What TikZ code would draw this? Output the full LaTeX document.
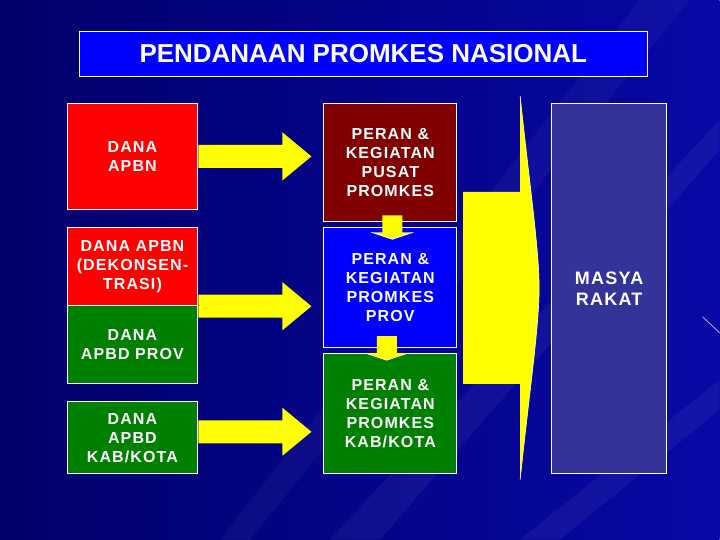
\documentclass[tikz,border=0pt]{standalone}
\usepackage{fontspec}
\usetikzlibrary{calc}
\newfontfamily\boxfont[LetterSpace=7]{Liberation Sans}
\newfontfamily\titlefont{Liberation Sans}
\newcommand\fatarrow[2]{%
  \fill [arrowyellow] ($(#1)+(0,-11.5)$) -- ($(#2)+(-29,-11.5)$) -- ($(#2)+(-29,-24)$) -- (#2)
    -- ($(#2)+(-29,24)$) -- ($(#2)+(-29,11.5)$) -- ($(#1)+(0,11.5)$) -- cycle;}
\newcommand\droparrow[1]{%
  \fill [arrowyellow] ($(#1)+(-10,0)$) -- ($(#1)+(10,0)$) -- ($(#1)+(10,17)$) -- ($(#1)+(21,17)$)
    -- ($(#1)+(0,24)$) -- ($(#1)+(-21,17)$) -- ($(#1)+(-10,17)$) -- cycle;
  \draw [white,line width=0.6pt] ($(#1)+(-21,17)$) -- ($(#1)+(0,24)$) -- ($(#1)+(21,17)$);}
\begin{document}
\begin{tikzpicture}[x=1pt,y=-1pt,
  box/.style={draw=white,line width=0.8pt,text=white,align=center,inner sep=0pt,
    font=\boxfont\bfseries\fontsize{16}{19}\selectfont}]
  \definecolor{bgdark}{HTML}{00006A}
  \definecolor{bglight}{HTML}{0808A6}
  \definecolor{arrowyellow}{HTML}{FFFF00}
  \definecolor{pusatred}{HTML}{800000}
  \definecolor{provblue}{HTML}{0000FF}
  \definecolor{kabgreen}{HTML}{008000}
  \definecolor{masyblue}{HTML}{333399}
  \shade [left color=bgdark,right color=bglight] (0,0) rectangle (720,540);
  \fill [white,opacity=.05] (720,120) -- (720,150) -- (380,540) -- (330,540) -- cycle;
  \fill [white,opacity=.05] (720,380) -- (720,410) -- (560,540) -- (520,540) -- cycle;
  \fill [white,opacity=.04] (640,0) -- (690,0) -- (250,540) -- (220,540) -- cycle;
  \draw [violet!35!white,line width=0.8pt] (703,317) -- (720,333);
  \useasboundingbox (0,0) rectangle (720,540);

  \node [box,fill=provblue,minimum width=569,minimum height=45,
    font=\titlefont\bfseries\fontsize{26}{30}\selectfont] (title) at (363.5,53.5) {PENDANAAN PROMKES NASIONAL};

  \node [box,fill=red,minimum width=131,minimum height=107] (apbn) at (132.5,156.5) {DANA\\APBN};
  \node [box,fill=red,minimum width=131,minimum height=78] (dekon) at (132.5,267) {DANA APBN\\(DEKONSEN-\\TRASI)};
  \node [box,fill=kabgreen,minimum width=131,minimum height=78] (apbdprov) at (132.5,345) {DANA\\APBD PROV};
  \node [box,fill=kabgreen,minimum width=131,minimum height=72] (apbdkab) at (132.5,438) {DANA\\APBD\\KAB/KOTA};

  \node [box,fill=pusatred,minimum width=133,minimum height=119] (pusat) at (390.5,162.5) {PERAN \&\\KEGIATAN\\PUSAT\\PROMKES};
  \node [box,fill=provblue,minimum width=133,minimum height=120] (prov) at (390.5,288) {PERAN \&\\KEGIATAN\\PROMKES\\PROV};
  \node [box,fill=kabgreen,minimum width=133,minimum height=120] (kab) at (390.5,414) {PERAN \&\\KEGIATAN\\PROMKES\\KAB/KOTA};

  \node [box,fill=masyblue,minimum width=115,minimum height=371,
    font=\boxfont\bfseries\fontsize{18}{21}\selectfont] (masy) at (609.5,288.5) {MASYA\\RAKAT};

  \coordinate (tip) at ($(pusat.west)+(-12,0)$);
  \coordinate (tip1) at (apbn.east -| tip);
  \coordinate (tip2) at (dekon.south east -| tip);
  \coordinate (kabfrom) at ($(apbdkab.east)+(0,-6)$);
  \coordinate (tip3) at (kabfrom -| tip);
  \fatarrow{apbn.east}{tip1}
  \fatarrow{dekon.south east}{tip2}
  \fatarrow{kabfrom}{tip3}

  \coordinate (drop1) at ($(pusat.south)+(2,-7)$);
  \coordinate (drop2) at ($(prov.south)+(-3.5,-12)$);
  \droparrow{drop1}
  \droparrow{drop2}

  \begin{scope}[shift={(prov.east)}]
    \fill [arrowyellow] (6,-96) -- (63,-96) -- (63,-192) .. controls (73,-98) and (82,-38) .. (82,0)
      .. controls (82,38) and (73,98) .. (63,192) -- (63,96) -- (6,96) -- cycle;
    \draw [white,line width=0.6pt] (63,-192) .. controls (73,-98) and (82,-38) .. (82,0)
      .. controls (82,38) and (73,98) .. (63,192);
  \end{scope}
\end{tikzpicture}
\end{document}
